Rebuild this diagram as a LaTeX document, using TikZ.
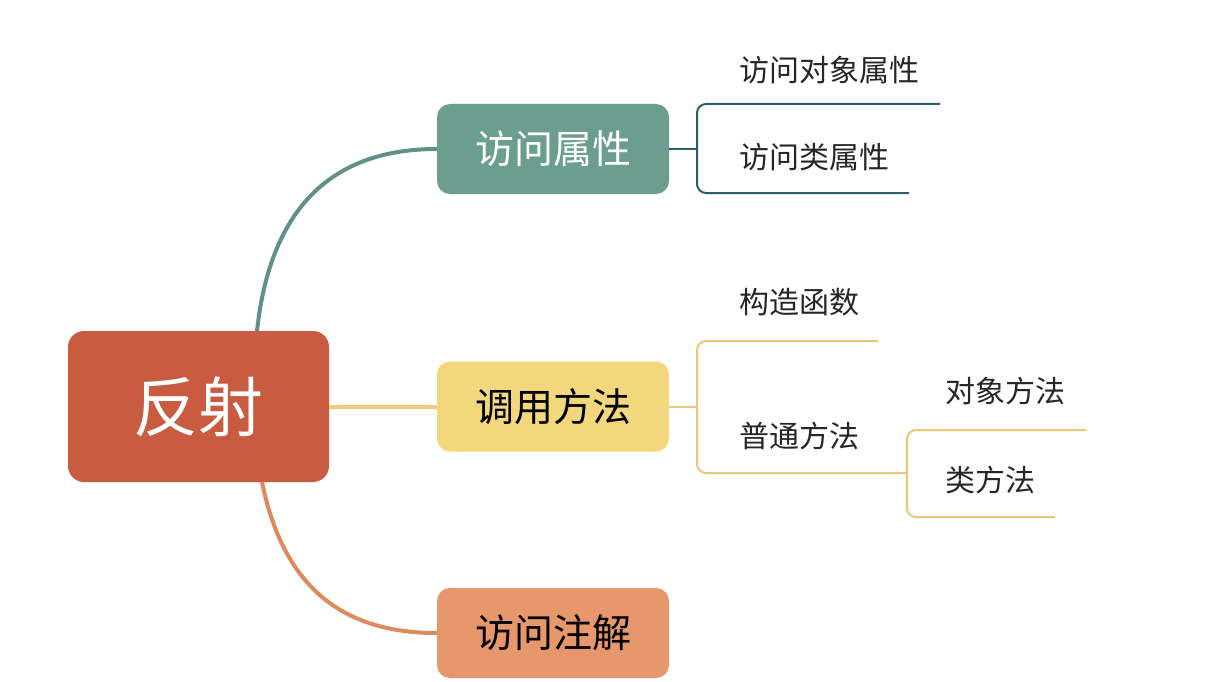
\documentclass[tikz,border=0pt]{standalone}
\usepackage{fontspec}
\setmainfont{Noto Sans CJK SC}
\begin{document}
\begin{tikzpicture}[x=1pt,y=-1pt,
  box/.style={rounded corners=13pt, minimum width=232pt, minimum height=90pt, inner sep=0pt, font=\fontsize{39}{42}\selectfont},
  leaf/.style={anchor=west, inner sep=0pt, font=\fontsize{30}{32}\selectfont, text=black!85}]
\definecolor{rootc}{HTML}{C95C40}
\definecolor{tealc}{HTML}{6B9E8F}
\definecolor{yelc}{HTML}{F3D77C}
\definecolor{orac}{HTML}{E6976B}
\definecolor{tealln}{HTML}{5F918A}
\definecolor{yelln}{HTML}{EFCD7A}
\definecolor{orln}{HTML}{DE8A60}
\definecolor{tealsub}{HTML}{2E5E68}
\definecolor{yelsub}{HTML}{EBC77C}
\fill[white] (0,0) rectangle (1232,682);
\useasboundingbox (0,0) rectangle (1232,682);
% main nodes
\node[box, fill=rootc, minimum width=261pt, minimum height=151pt, rounded corners=16pt, text=white, font=\fontsize{65}{68}\selectfont] (root) at (198.5,406.5) {反射};
\node[box, fill=tealc, text=white] (a) at (553,149) {访问属性};
\node[box, fill=yelc, text=black] (b) at (553,406.5) {调用方法};
\node[box, fill=orac, text=black] (c) at (553,633) {访问注解};
% main connectors
\coordinate (rt) at (257,331);
\coordinate (rb) at (262,482);
\draw[draw=tealln, line width=4pt] (rt) .. controls (270,210) and (330,149) .. (a.west);
\draw[draw=yelln, line width=4pt] (root.east) -- (b.west);
\draw[draw=orln, line width=4pt] (rb) .. controls (284,590) and (345,633) .. (c.west);
% sub branch of a
\coordinate (aj) at (697,149);
\coordinate (a1) at (940,104);
\coordinate (a2) at (909,193);
\draw[draw=tealsub, line width=2pt] (a.east) -- (aj);
\draw[draw=tealsub, line width=2pt, rounded corners=9pt] (a1) -- (697,104) -- (697,193) -- (a2);
\node[leaf] (ta1) at (739,70) {访问对象属性};
\node[leaf] (ta2) at (739,157) {访问类属性};
% sub branch of b
\coordinate (bj) at (697,406.5);
\coordinate (b1) at (878,341);
\coordinate (b2) at (907,473);
\draw[draw=yelsub, line width=2pt] (b.east) -- (bj);
\draw[draw=yelsub, line width=2pt, rounded corners=9pt] (b1) -- (697,341) -- (697,473) -- (b2);
\node[leaf] (tb1) at (739,302) {构造函数};
\node[leaf] (tb2) at (739,436) {普通方法};
% sub-sub branch
\coordinate (c1) at (1086,430);
\coordinate (c2) at (1055,517);
\draw[draw=yelsub, line width=2pt, rounded corners=9pt] (c1) -- (907,430) -- (907,517) -- (c2);
\node[leaf] (tc1) at (945,391) {对象方法};
\node[leaf] (tc2) at (945,480) {类方法};
\end{tikzpicture}
\end{document}
